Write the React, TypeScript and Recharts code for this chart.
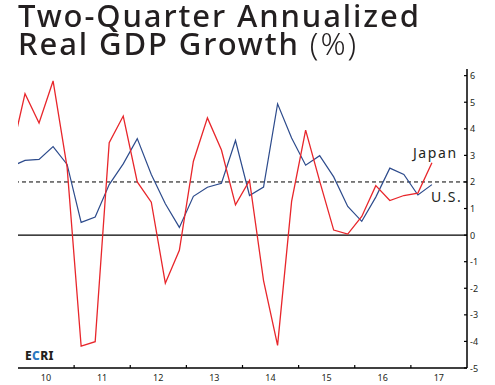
import React from "react";
import { LineChart, Line, XAxis, YAxis, ReferenceLine, LabelList } from "recharts";

const quarters = [
  "2009Q4",
  "2010Q1", "2010Q2", "2010Q3", "2010Q4",
  "2011Q1", "2011Q2", "2011Q3", "2011Q4",
  "2012Q1", "2012Q2", "2012Q3", "2012Q4",
  "2013Q1", "2013Q2", "2013Q3", "2013Q4",
  "2014Q1", "2014Q2", "2014Q3", "2014Q4",
  "2015Q1", "2015Q2", "2015Q3", "2015Q4",
  "2016Q1", "2016Q2", "2016Q3", "2016Q4",
  "2017Q1", "2017Q2",
];

const japan = [
  3.0,
  5.32, 4.22, 5.8, 2.55,
  -4.18, -4.01, 3.48, 4.48,
  2.0, 1.24, -1.81, -0.57,
  2.78, 4.41, 3.2, 1.14,
  2.06, -1.71, -4.15, 1.27,
  3.95, 2.03, 0.19, 0.04,
  0.7, 1.86, 1.3, 1.49,
  1.58, 2.72,
];

const us = [
  2.58,
  2.81, 2.85, 3.33, 2.66,
  0.48, 0.68, 1.9, 2.68,
  3.63, 2.28, 1.18, 0.29,
  1.46, 1.8, 1.95, 3.56,
  1.49, 1.81, 4.94, 3.65,
  2.63, 2.99, 2.19, 1.08,
  0.52, 1.43, 2.52, 2.28,
  1.51, 1.9,
];

const yearTicks = [2010, 2011, 2012, 2013, 2014, 2015, 2016, 2017];
const valueTicks = [-5, -4, -3, -2, -1, 0, 1, 2, 3, 4, 5, 6];
const trendLevel = 2;

const data = quarters.map((q, i) => {
  const year = Number(q.slice(0, 4));
  const qn = Number(q.slice(5));
  return { t: year + (qn - 0.5) / 4, japan: japan[i], us: us[i] };
});

const RED = "#e8262b";
const BLUE = "#2d4b8c";
const INK = "#231f20";
const FONT = "'Noto Sans', sans-serif";

const XTick = (props: any) => {
  const { x, y, payload } = props;
  const v = payload.value as number;
  return (
    <g>
      {v > 2010 && <line x1={x} x2={x} y1={y - 3} y2={y} stroke="#000" strokeWidth={1.2} />}
      <text x={x + 28} y={y + 13} textAnchor="middle" fontSize={9} fill={INK} fontFamily={FONT}>
        {String(v).slice(2)}
      </text>
    </g>
  );
};

const YTick = (props: any) => {
  const { x, y, payload } = props;
  return (
    <g>
      <line x1={x - 3} x2={x} y1={y} y2={y} stroke="#000" strokeWidth={1.2} />
      <text x={x + 3} y={y + 3.5} textAnchor="start" fontSize={9} fill={INK} fontFamily={FONT}>
        {payload.value}
      </text>
    </g>
  );
};

const last = quarters.length - 1;

const endLabel = (name: string, dx: number, dy: number) => (p: any) =>
  p.index === last ? (
    <text x={p.x + dx} y={p.y + dy} fontSize={14} fill={INK} fontFamily={FONT} letterSpacing={1.6}>
      {name}
    </text>
  ) : null;

const titleLine: React.CSSProperties = {
  fontFamily: FONT,
  fontSize: 31,
  fontWeight: 500,
  lineHeight: "28px",
  height: 28,
  letterSpacing: 1.9,
  color: INK,
  whiteSpace: "nowrap",
};

export default function App() {
  return (
    <div style={{ position: "fixed", left: 0, top: 0, width: 495, height: 385, background: "#fff" }}>
      <div style={{ position: "absolute", left: 0, top: 0 }}>
        <LineChart width={495} height={385} data={data} margin={{ top: 69, right: 8, bottom: 0, left: 18 }}>
          <XAxis
            dataKey="t"
            type="number"
            domain={[2010, 2018]}
            allowDataOverflow
            ticks={yearTicks}
            interval={0}
            tick={<XTick />}
            tickLine={false}
            tickSize={0}
            tickMargin={0}
            height={17}
            axisLine={{ stroke: "#000", strokeWidth: 1.5 }}
          />
          <XAxis
            xAxisId="top"
            orientation="top"
            dataKey="t"
            type="number"
            domain={[2010, 2018]}
            tick={false}
            tickLine={false}
            height={0}
            axisLine={{ stroke: "#000", strokeWidth: 1.5 }}
          />
          <YAxis
            yAxisId="left"
            orientation="left"
            width={0}
            domain={[-5, 6.25]}
            tick={false}
            tickLine={false}
            axisLine={{ stroke: "#000", strokeWidth: 1.5 }}
          />
          <YAxis
            orientation="right"
            width={20}
            domain={[-5, 6.25]}
            allowDataOverflow
            ticks={valueTicks}
            interval={0}
            tick={<YTick />}
            tickLine={false}
            tickSize={0}
            tickMargin={0}
            axisLine={{ stroke: "#000", strokeWidth: 1.5 }}
          />
          <ReferenceLine y={0} stroke="#000" strokeWidth={1.3} />
          <ReferenceLine y={trendLevel} stroke="#000" strokeWidth={1} strokeDasharray="4 3" />
          <Line dataKey="us" stroke={BLUE} strokeWidth={1.2} dot={false} isAnimationActive={false}>
            <LabelList dataKey="us" content={endLabel("U.S.", -1, 17)} />
          </Line>
          <Line dataKey="japan" stroke={RED} strokeWidth={1.3} dot={false} isAnimationActive={false}>
            <LabelList dataKey="japan" content={endLabel("Japan", -19, -5)} />
          </Line>
        </LineChart>
      </div>
      <div style={{ position: "absolute", left: 18, top: 1 }}>
        <div style={titleLine}>Two-Quarter Annualized</div>
        <div style={titleLine}>
          Real GDP Growth <span style={{ fontWeight: 300 }}>(%)</span>
        </div>
      </div>
      <div
        style={{
          position: "absolute",
          left: 25,
          top: 349,
          fontFamily: FONT,
          fontWeight: 800,
          fontSize: 12,
          letterSpacing: 0.4,
          lineHeight: "14px",
          color: INK,
        }}
      >
        E<span style={{ color: "#2a78c2" }}>C</span>RI
      </div>
    </div>
  );
}
